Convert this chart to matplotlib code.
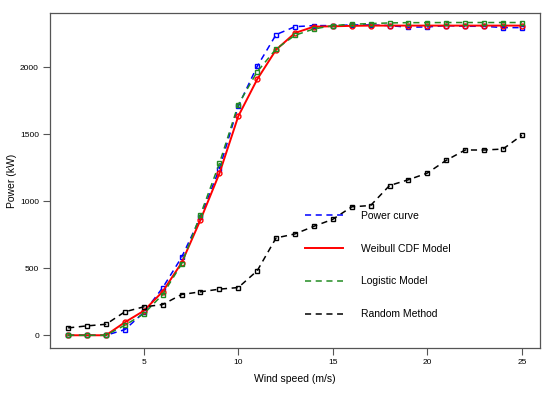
import matplotlib
matplotlib.use("Agg")
import matplotlib.pyplot as plt

wind = list(range(1, 26))
power_curve = [0, 0, 0, 42, 170, 354, 581, 880, 1242, 1710, 2006, 2243, 2302, 2310,
               2310, 2315, 2315, 2310, 2298, 2300, 2310, 2305, 2305, 2295, 2295]
weibull = [0, 0, 0, 97, 182, 326, 540, 861, 1207, 1634, 1909, 2130, 2255, 2302,
           2305, 2308, 2310, 2310, 2310, 2310, 2310, 2310, 2310, 2310, 2310]
logistic = [0, 0, 0, 75, 160, 304, 531, 900, 1282, 1721, 1966, 2136, 2238, 2285,
            2310, 2320, 2325, 2330, 2332, 2332, 2333, 2333, 2333, 2333, 2333]
random_method = [55, 70, 82, 175, 212, 229, 304, 324, 344, 356, 481, 726, 756, 813,
                 865, 958, 968, 1117, 1160, 1210, 1305, 1382, 1382, 1389, 1492]

xticks = [5, 10, 15, 20, 25]
yticks = [0, 500, 1000, 1500, 2000]

plt.rcParams['font.family'] = ['Liberation Sans', 'DejaVu Sans']

fig = plt.figure(figsize=(5.5, 3.95), dpi=100)
ax = fig.add_axes([50/550, 47/395, 490/550, 335/395])

ms = 3.5
ax.plot(wind, power_curve, color='blue', lw=1.1, dashes=(4, 3), marker='s', ms=ms,
        mfc='none', mec='blue', mew=1.0, label='Power curve')
ax.plot(wind, weibull, color='red', lw=1.4, marker='o', ms=ms, mfc='none', mec='red',
        mew=1.0, label='Weibull CDF Model')
ax.plot(wind, logistic, color='#228B22', lw=1.1, dashes=(4, 3), marker='s', ms=ms,
        mfc='none', mec='#228B22', mew=1.0, label='Logistic Model')
ax.plot(wind, random_method, color='black', lw=1.1, dashes=(4, 3), marker='s', ms=ms,
        mfc='none', mec='black', mew=1.0, label='Random Method')

ax.set_xlim(0.04, 25.96)
ax.set_ylim(-95, 2404)
ax.set_xticks(xticks)
ax.set_yticks(yticks)
ax.tick_params(axis='both', direction='out', length=5, width=0.8, color='#555555',
               labelsize=6, pad=3)
for s in ax.spines.values():
    s.set_color('#555555')
    s.set_linewidth(0.9)

ax.set_xlabel('Wind speed (m/s)', fontsize=7.5, labelpad=6)
ax.set_ylabel('Power (kW)', fontsize=7.5)
ax.yaxis.set_label_coords(-0.067, 0.5)

leg = ax.legend(loc='upper left', bbox_to_anchor=(0.52, 0.41), frameon=False, fontsize=7.5,
                handlelength=3.65, handletextpad=1.7, labelspacing=2.2,
                borderpad=0, borderaxespad=0)
for h in leg.get_lines():
    h.set_marker('')

fig.savefig('out.png', dpi=100)
